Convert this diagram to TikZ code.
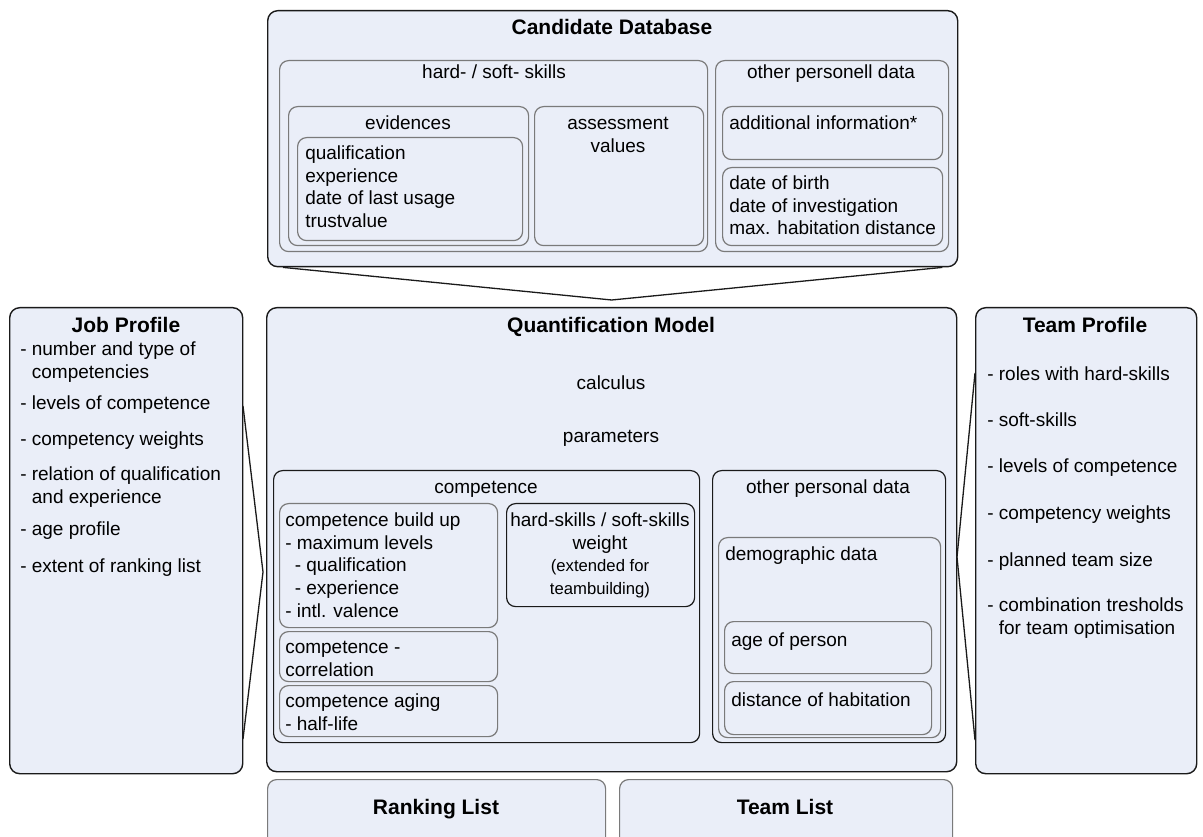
\documentclass[tikz,border=0pt]{standalone}
\usepackage{fontspec}
\setmainfont{Liberation Sans}
\usetikzlibrary{calc}
\definecolor{boxfill}{HTML}{EAEEF8}
\definecolor{greyline}{HTML}{7A7A7A}
\definecolor{darkline}{HTML}{1A1A1A}
\newdimen\px \px=0.75pt
\tikzstyle{box}=[draw=darkline, fill=boxfill, rounded corners=10\px, anchor=north west, inner sep=0pt, line width=1.4\px]
\tikzstyle{greybox}=[box, draw=greyline, rounded corners=9\px, line width=1.2\px]
\tikzstyle{blackbox}=[box, rounded corners=9\px, line width=1.2\px]
\tikzstyle{title}=[font=\fontsize{15.75}{18}\selectfont\bfseries, anchor=base, inner sep=0pt]
\tikzstyle{txt}=[font=\fontsize{14.25}{16.9}\selectfont, anchor=base, inner sep=0pt]
\tikzstyle{ltxt}=[txt, anchor=base west, align=left]
\tikzstyle{ctxt}=[txt, align=center]
\tikzstyle{chevron}=[draw=darkline, line width=1.3\px]
\tikzset{wh/.style 2 args={minimum width=#1\px, minimum height=#2\px}}
\newcommand{\ind}{\phantom{- }}

\begin{document}
\begin{tikzpicture}[x=0.75pt, y=-0.75pt]

    \clip (0,0) rectangle (1203,837);

    % candidate database (multi-line texts sit on their last baseline)
    \node[box, wh={690}{256}] (db) at (267,10) {};
    \node[title] at (612,35) {Candidate Database};

    \node[greybox, wh={428}{191}] (skills) at (279,60) {};
    \node[txt] at (494,79) {hard- / soft- skills};
    \node[greybox, wh={240}{139}] (evid) at (288,106) {};
    \node[txt] at (408,130) {evidences};
    \node[greybox, wh={225}{103}] (evidlist) at (297,137) {};
    \node[ltxt] at (305,227.5) {qualification\\experience\\date of last usage\\trustvalue};
    \node[greybox, wh={169}{139}] (assess) at (534,106) {};
    \node[ctxt] at (618,152.5) {assessment\\values};

    \node[greybox, wh={233}{191}] (pers) at (715,60) {};
    \node[txt] at (831,79) {other personell data};
    \node[greybox, wh={220}{53}] (addinfo) at (722,106) {};
    \node[ltxt] at (729,130) {additional information*};
    \node[greybox, wh={220}{78}] (dates) at (722,167) {};
    \node[ltxt] at (729,235) {date of birth\\date of investigation\\max. habitation distance};

    % quantification model
    \node[box, wh={690}{464}] (qm) at (266,307) {};
    \node[title] at (611,333) {Quantification Model};
    \node[txt] at (611,390) {calculus};
    \node[txt] at (611,443) {parameters};

    \node[blackbox, wh={426}{272}] (comp) at (273,470) {};
    \node[txt] at (486,494) {competence};
    \node[greybox, wh={218}{124}] (buildup) at (279,503) {};
    \node[ltxt] at (285,617) {competence build up\\- maximum levels\\\hspace*{0.5em}- qualification\\\hspace*{0.5em}- experience\\- intl. valence};
    \node[greybox, wh={218}{50}] (correl) at (279,631) {};
    \node[ltxt] at (285,676) {competence -\\correlation};
    \node[greybox, wh={218}{51}] (aging) at (279,685) {};
    \node[ltxt] at (285,730) {competence aging\\- half-life};
    \node[blackbox, wh={188}{103}] (weight) at (506,503) {};
    \node[ctxt] at (600,594.5) {hard-skills / soft-skills\\weight\\{\fontsize{12.5}{16.9}\selectfont (extended for}\\{\fontsize{12.5}{16.9}\selectfont teambuilding)}};

    \node[blackbox, wh={233}{272}] (other) at (712,470) {};
    \node[txt] at (828,494) {other personal data};
    \node[greybox, wh={222}{200}] (demo) at (718,537) {};
    \node[ltxt] at (725,561) {demographic data};
    \node[greybox, wh={207}{52}] (age) at (724,621) {};
    \node[ltxt] at (731,646) {age of person};
    \node[greybox, wh={207}{53}] (dist) at (724,681) {};
    \node[ltxt] at (731,706) {distance of habitation};

    % job profile
    \node[box, wh={233}{466}] (job) at (9,307) {};
    \node[title] at (126,333) {Job Profile};
    \node[ltxt] at (20,378.5) {- number and type of\\\ind competencies};
    \node[ltxt] at (20,410) {- levels of competence};
    \node[ltxt] at (20,446) {- competency weights};
    \node[ltxt] at (20,503.5) {- relation of qualification\\\ind and experience};
    \node[ltxt] at (20,536) {- age profile};
    \node[ltxt] at (20,572) {- extent of ranking list};

    % team profile
    \node[box, wh={221}{466}] (team) at (975,307) {};
    \node[title] at (1085,333) {Team Profile};
    \node[ltxt] at (987,381) {- roles with hard-skills};
    \node[ltxt] at (987,427) {- soft-skills};
    \node[ltxt] at (987,473) {- levels of competence};
    \node[ltxt] at (987,520) {- competency weights};
    \node[ltxt] at (987,566) {- planned team size};
    \node[ltxt] at (987,634.5) {- combination tresholds\\\ind for team optimisation};

    % results
    \node[greybox, wh={338}{80}] (rank) at (267,779) {};
    \node[title] at (436,814) {Ranking List};
    \node[greybox, wh={333}{80}] (tlist) at (619,779) {};
    \node[title] at (785,814) {Team List};

    % chevrons
    \coordinate (db1) at ($(db.south west)+(16,0)$);
    \coordinate (db2) at ($(db.south east)+(-16,0)$);
    \coordinate (dbtip) at ($(qm.north)+(0,-7)$);
    \draw[chevron] (db1) -- (dbtip) -- (db2);

    \coordinate (job1) at (243,406);
    \coordinate (job2) at (243,739);
    \coordinate (jobtip) at (263,572);
    \draw[chevron] (job1) -- (jobtip) -- (job2);

    \coordinate (team1) at (975,373);
    \coordinate (team2) at (975,740);
    \coordinate (teamtip) at (957,557);
    \draw[chevron] (team1) -- (teamtip) -- (team2);

\end{tikzpicture}
\end{document}
